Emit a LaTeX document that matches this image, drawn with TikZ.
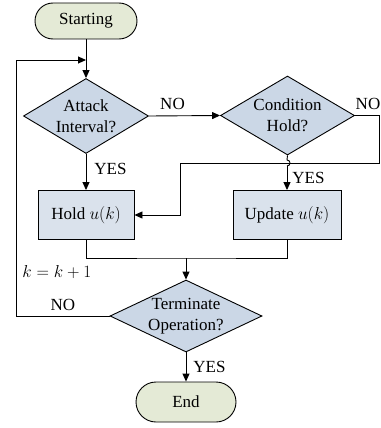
\documentclass[tikz,border=0pt]{standalone}
\usepackage{fontspec}
\setmainfont{Liberation Serif}
\usetikzlibrary{shapes.geometric,shapes.misc,arrows.meta,calc}
\definecolor{termfill}{HTML}{E4EAD6}
\definecolor{diafill}{HTML}{CBD7E6}
\definecolor{boxfill}{HTML}{DAE2EC}
\begin{document}
\begin{tikzpicture}[x=1pt,y=-1pt,
  font=\fontsize{17}{21}\selectfont, line width=0.9pt,
  term/.style={draw, rounded rectangle, fill=termfill, minimum width=102pt, inner sep=0pt},
  dia/.style={draw, diamond, fill=diafill, inner sep=0pt, minimum width=#1},
  procbox/.style={draw, rectangle, fill=boxfill, minimum height=49pt, inner sep=0pt},
  arr/.style={-{Triangle[length=8pt,width=7pt]}},
  lbl/.style={inner sep=0pt, anchor=west}
]
\useasboundingbox (0,0) rectangle (380,428);

\node[term, minimum height=36pt] (start) at (86,21) {Starting};
\node[dia=125pt, minimum height=75pt, label={[align=center, inner sep=0pt]center:Attack\\Interval?}] (att) at (86,116) {};
\node[dia=134pt, minimum height=79pt, label={[align=center, inner sep=0pt]center:Condition\\Hold?}] (cond) at (287.5,115.5) {};
\node[procbox, minimum width=96pt] (hold) at (86,215) {Hold $u\bigl(k\bigr)$};
\node[procbox, minimum width=108pt] (upd) at (287,215) {Update $u\bigl(k\bigr)$};
\node[dia=152pt, minimum height=72pt, label={[align=center, inner sep=0pt]center:Terminate\\Operation?}] (term) at (186,316) {};
\node[term, minimum width=100pt, minimum height=40pt] (endn) at (186,402) {End};

\coordinate (lp) at (16,60);
\coordinate (r1) at (379,115.5);
\coordinate (r2) at (379,163);
\coordinate (l2) at (180,163);
\coordinate (l3) at (180,215);
\coordinate (mrg) at (186,258);
\coordinate (hopA) at (287,160);
\coordinate (hopB) at (287,166);

\draw[arr] (start.south) -- (att.north);
\draw[arr] (term.west) -| (lp) -- (lp -| start.south);
\draw[arr] (att.east) -- (cond.west);
\draw[arr] (cond.east) -- (r1) -- (r2) -- (l2) -- (l3) -- (hold.east);
\draw[arr] (att.south) -- (hold.north);
\draw (cond.south) -- (hopA) .. controls ($(hopA)+(4,0)$) and ($(hopB)+(4,0)$) .. (hopB);
\draw[arr] (hopB) -- (upd.north);
\draw (hold.south) |- (mrg) -| (upd.south);
\draw[arr] (mrg) -- (term.north);
\draw[arr] (term.south) -- (endn.north);

\node[inner sep=0pt] (no1) at (172.5,104) {NO};
\node[inner sep=0pt] (no2) at (368,104) {NO};
\node[lbl] (yes1) at (94,169) {YES};
\node[lbl] (yes2) at (292,178) {YES};
\node[lbl] (kk) at (22,272) {$k=k+1$};
\node[inner sep=0pt] (no3) at (63,305) {NO};
\node[lbl] (yes3) at (193,367) {YES};
\end{tikzpicture}
\end{document}
